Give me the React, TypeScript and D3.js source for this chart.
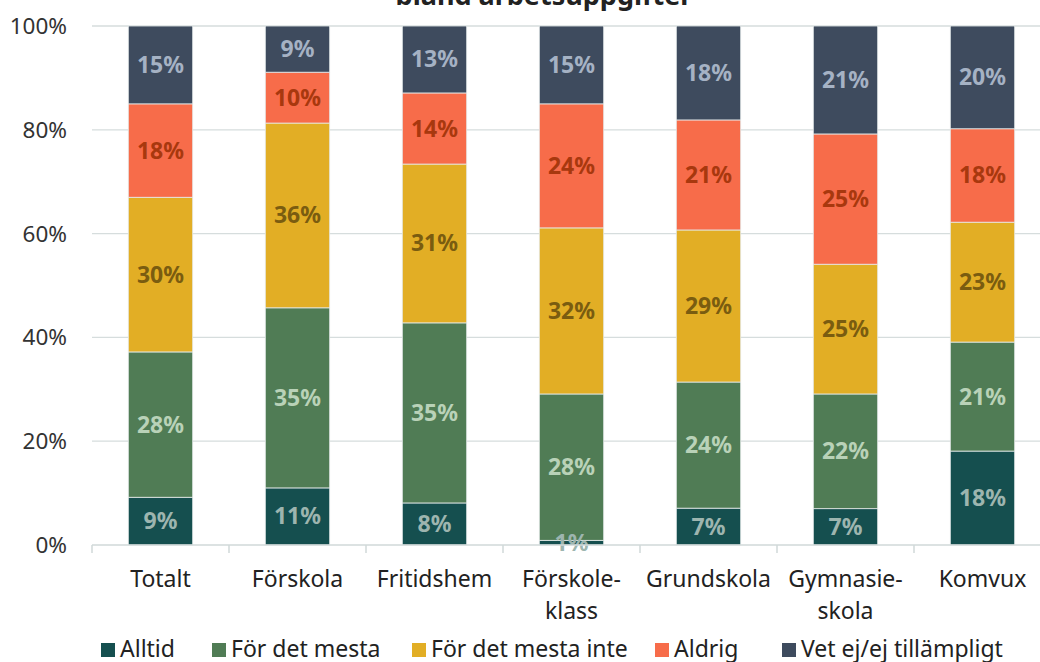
import React from "react";
import * as d3 from "d3";

const categories = ["Totalt", "Förskola", "Fritidshem", "Förskoleklass", "Grundskola", "Gymnasieskola", "Komvux"];
const categoryLines = [["Totalt"], ["Förskola"], ["Fritidshem"], ["Förskole-", "klass"], ["Grundskola"], ["Gymnasie-", "skola"], ["Komvux"]];
const seriesNames = ["Alltid", "För det mesta", "För det mesta inte", "Aldrig", "Vet ej/ej tillämpligt"];
const alltid = [9.2, 11.0, 8.1, 0.9, 7.1, 7.0, 18.1];
const forDetMesta = [28.0, 34.7, 34.7, 28.2, 24.3, 22.1, 21.0];
const forDetMestaInte = [29.8, 35.6, 30.6, 32.0, 29.3, 25.0, 23.1];
const aldrig = [18.0, 9.8, 13.7, 23.9, 21.2, 25.1, 18.0];
const vetEj = [15.0, 8.9, 12.9, 15.0, 18.1, 20.8, 19.8];
const yTicks = [0, 20, 40, 60, 80, 100];
const title = "bland arbetsuppgifter";

const fills = ["#154f4f", "#507c55", "#e2ae25", "#f76c4a", "#3e4b5e"];
const labelColors = ["#9db5af", "#b9d2b8", "#7a5c10", "#a8380e", "#a5b2c4"];

export default function App() {
  const W = 1040, H = 662;
  const left = 92, right = 1051, top = 26, bottom = 545;
  const font = "'Noto Sans', 'Open Sans', sans-serif";
  const x = d3.scaleBand<string>().domain(categories).range([left, right]).paddingInner(0.53).paddingOuter(0.265);
  const xOuter = d3.scaleBand<string>().domain(categories).range([left, right]);
  const y = d3.scaleLinear().domain([0, 100]).range([bottom, top]);
  const seriesData = [alltid, forDetMesta, forDetMestaInte, aldrig, vetEj];
  const rows = categories.map((c, i) => {
    const r: any = { cat: c };
    seriesNames.forEach((s, j) => (r[s] = seriesData[j][i]));
    return r;
  });
  const stacked = d3.stack<any>().keys(seriesNames)(rows);

  const legendX = [101, 212, 412, 655, 782];

  return (
    <svg width={W} height={H} style={{ position: "absolute", left: 0, top: 0, fontFamily: font }}>
      <rect width={W} height={H} fill="#fff" />
      <text x={544} y={5} textAnchor="middle" fontSize={27} fontWeight="bold" fill="#222">{title}</text>
      {yTicks.map((t) => (
        <g key={t}>
          {t > 0 && <line x1={left} x2={right} y1={y(t)} y2={y(t)} stroke="#d6dddd" strokeWidth={1.3} />}
          <text x={67} y={y(t) + 8} textAnchor="end" fontSize={22.5} fill="#333">{t}%</text>
        </g>
      ))}
      {stacked.map((layer, j) => (
        <g key={layer.key}>
          {layer.map((d, i) => (
            <rect key={i} x={x(categories[i])} width={x.bandwidth()} y={y(d[1])} height={y(d[0]) - y(d[1])}
              fill={fills[j]} stroke="#e6ebeb" strokeWidth={0.8} />
          ))}
        </g>
      ))}
      {stacked.map((layer, j) => (
        <g key={"l" + layer.key}>
          {layer.map((d, i) => (
            <text key={i} x={x(categories[i])! + x.bandwidth() / 2} y={(y(d[0]) + y(d[1])) / 2 + 8}
              textAnchor="middle" fontSize={23} fontWeight="bold" fill={labelColors[j]}>
              {Math.round(d[1] - d[0])}%
            </text>
          ))}
        </g>
      ))}
      <line x1={left} x2={right} y1={bottom} y2={bottom} stroke="#d0d8d8" strokeWidth={1.5} />
      {categories.concat([""]).map((c, i) => {
        const xx = left + i * xOuter.step();
        return <line key={i} x1={xx} x2={xx} y1={bottom} y2={bottom + 8} stroke="#d0d8d8" strokeWidth={1.5} />;
      })}
      {categories.map((c, i) => (
        <text key={c} x={xOuter(c)! + xOuter.bandwidth() / 2} y={587} textAnchor="middle" fontSize={23} fill="#222">
          {categoryLines[i].map((l, k) => (
            <tspan key={k} x={xOuter(c)! + xOuter.bandwidth() / 2} dy={k === 0 ? 0 : 32}>{l}</tspan>
          ))}
        </text>
      ))}
      {seriesNames.map((s, j) => (
        <g key={s}>
          <rect x={legendX[j]} y={643} width={14} height={14} fill={fills[j]} />
          <text x={legendX[j] + 19} y={657} fontSize={23} fill="#222">{s}</text>
        </g>
      ))}
    </svg>
  );
}
